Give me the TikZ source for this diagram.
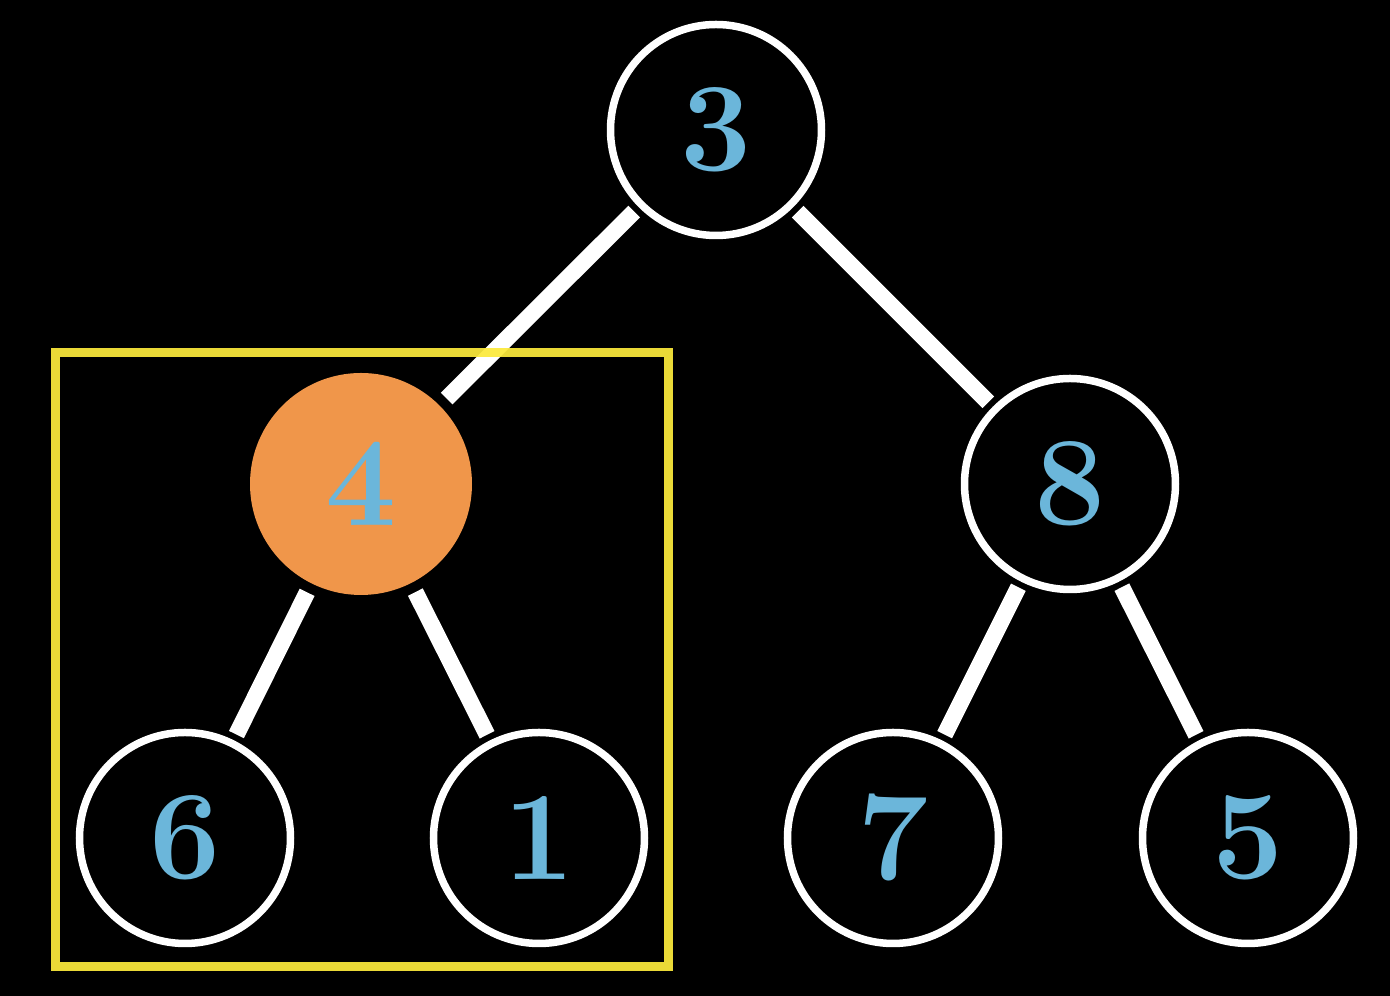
\documentclass[tikz,border=0pt]{standalone}
\definecolor{bg}{RGB}{0,0,0}
\definecolor{numblue}{RGB}{107,182,218}
\definecolor{nodeorange}{RGB}{240,150,74}
\definecolor{boxyellow}{RGB}{252,234,60}
\tikzset{
  treenode/.style={circle, draw=white, line width=0.075cm, minimum size=2.11cm, inner sep=0pt, outer sep=0pt,
    text=numblue, font=\fontsize{36}{36}\selectfont\bfseries},
  hotnode/.style={circle, fill=nodeorange, minimum size=2.22cm, inner sep=0pt, outer sep=0pt,
    text=numblue, font=\fontsize{36}{36}\selectfont\bfseries},
  edge/.style={draw=white, line width=0.165cm, line cap=butt, shorten <=0.1cm, shorten >=0.1cm},
  framebox/.style={draw=boxyellow, line width=0.09cm, draw opacity=0.93}
}
\begin{document}
\begin{tikzpicture}
\fill[bg] (0,0) rectangle (13.9,9.96);
\useasboundingbox (0,0) rectangle (13.9,9.96);
\node[treenode] (n3) at (7.16,8.66) {3};
\node[hotnode] (n4) at (3.61,5.12) {4};
\node[treenode] (n8) at (10.70,5.12) {8};
\node[treenode] (n6) at (1.85,1.58) {6};
\node[treenode] (n1) at (5.39,1.58) {1};
\node[treenode] (n7) at (8.93,1.58) {7};
\node[treenode] (n5) at (12.48,1.58) {5};
\draw[edge] (n3) -- (n4);
\draw[edge] (n3) -- (n8);
\draw[edge] (n4) -- (n6);
\draw[edge] (n4) -- (n1);
\draw[edge] (n8) -- (n7);
\draw[edge] (n8) -- (n5);
\coordinate (bl) at (0.55,0.29);
\coordinate (tr) at (6.68,6.43);
\draw[framebox] (bl) rectangle (tr);
\end{tikzpicture}
\end{document}
